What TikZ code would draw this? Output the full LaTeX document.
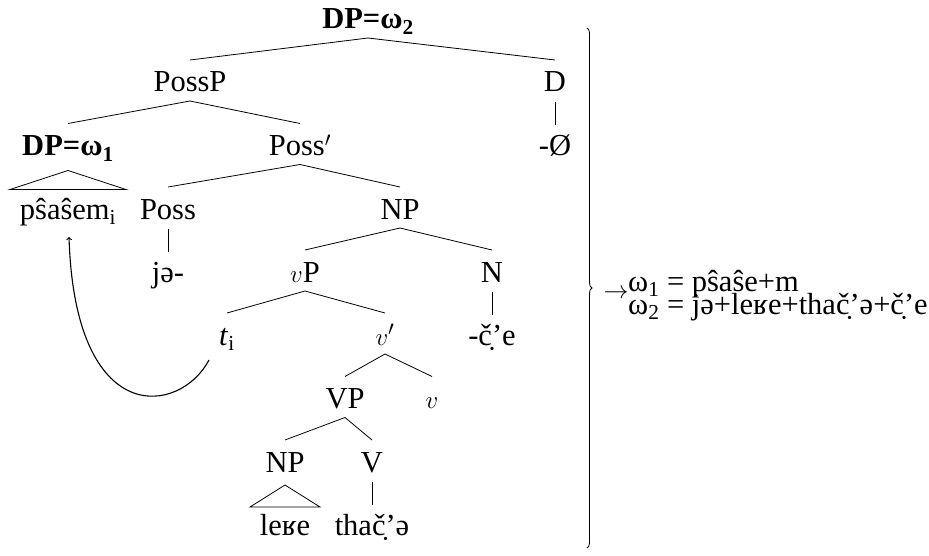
\documentclass[tikz,border=0pt]{standalone}
\usepackage{fontspec}
\setmainfont{Liberation Serif}
\usetikzlibrary{decorations.pathreplacing}
\begin{document}
\begin{tikzpicture}[x=1pt,y=-1pt,
  every node/.style={font=\fontsize{30.5}{34}\selectfont, inner sep=0pt, anchor=base},
  br/.style={line width=0.8pt},
  mv/.style={line width=1.1pt,->}]
\useasboundingbox (0,0) rectangle (929,556);
% tree nodes (anchor = baseline)
\node (top) at (368,29) {\textbf{DP=ω\textsubscript{2}}};
\node (possp) at (190,92) {PossP};
\node (d) at (555,92) {D};
\node (dpone) at (68,155.5) {\textbf{DP=ω\textsubscript{1}}};
\node (possbar) at (300,155.5) {Poss$'$};
\node (nul) at (555,155.5) {-Ø};
\node (psa) at (68,219) {pŝaŝem\textsubscript{i}};
\node (poss) at (168,219) {Poss};
\node (np) at (400,219) {NP};
\node (je) at (168,282) {jə-};
\node (vp) at (305,282) {$v$P};
\node (n) at (492,282) {N};
\node (t) at (227,345) {\textit{t}\textsubscript{i}};
\node (vbar) at (385,345) {$v'$};
\node (ce) at (492,345) {-č̣’e};
\node (vpbig) at (345,408.5) {VP};
\node (vsmall) at (432,408.5) {$v$};
\node (nptwo) at (285,472) {NP};
\node (vv) at (372,472) {V};
\node (lere) at (285,535) {leʁe};
\node (thac) at (372,535) {thač̣’ə};
% binary branches
\foreach \p/\c in {top/possp, top/d, possp/dpone, possp/possbar, possbar/poss, possbar/np,
                   np/vp, np/n, vp/t, vp/vbar, vbar/vpbig, vbar/vsmall, vpbig/nptwo, vpbig/vv}
  \draw[br] ([yshift=-9pt]\p.base) -- ([yshift=32pt]\c.base);
% unary branches
\foreach \p/\c in {d/nul, poss/je, n/ce, vv/thac}
  \draw[br] ([yshift=-10pt]\p.base) -- ([yshift=30pt]\c.base);
% triangles
\draw[br] ([yshift=-15pt]dpone.base) -- ++(-58,19) -- ++(116,0) -- cycle;
\draw[br] ([yshift=-13pt]nptwo.base) -- ++(-35,22) -- ++(70,0) -- cycle;
% movement arrow
\coordinate (tfoot) at (209,360);
\coordinate (psafoot) at (69,237);
\draw[mv] (tfoot) .. controls (180,415) and (75,430) .. (psafoot);
% brace and result
\coordinate (btop) at (587,28);
\coordinate (bbot) at (587,548);
\draw[line width=0.8pt, decorate, decoration={brace, amplitude=5pt}] (btop) -- (bbot);
\node (arr) at (616,298) {$\rightarrow$};
\node[anchor=base west] (w1) at (628,291) {ω\textsubscript{1} = pŝaŝe+m};
\node[anchor=base west] (w2) at (628,314) {ω\textsubscript{2} = jə+leʁe+thač̣’ə+č̣’e};
\end{tikzpicture}
\end{document}
